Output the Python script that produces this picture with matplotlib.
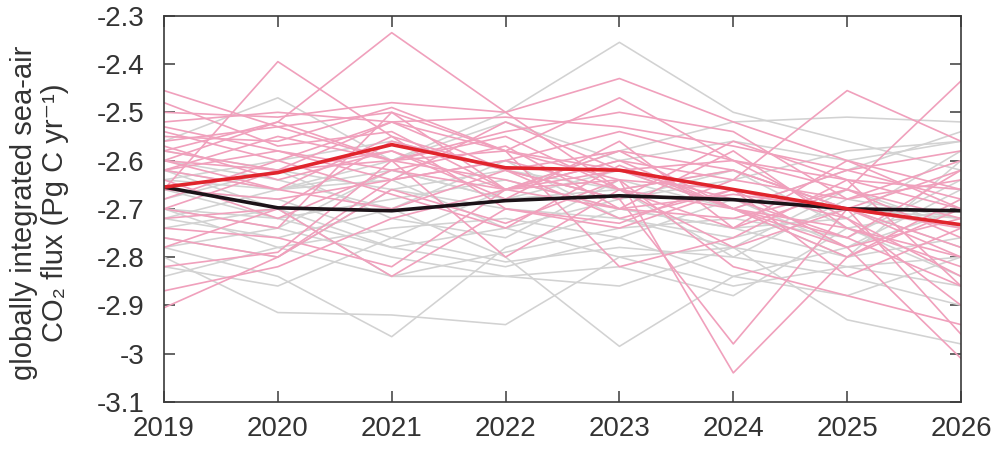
import numpy as np
import matplotlib
matplotlib.use("Agg")
import matplotlib.pyplot as plt
from matplotlib.ticker import FuncFormatter

plt.rcParams['font.family'] = ['Liberation Sans', 'DejaVu Sans']
plt.rcParams['axes.unicode_minus'] = False

years = [2019, 2020, 2021, 2022, 2023, 2024, 2025, 2026]

# ensemble members (Pg C / yr)
pink_members = [
    [-2.455, -2.53, -2.50, -2.58, -2.47, -2.60, -2.66, -2.72],
    [-2.60, -2.52, -2.335, -2.50, -2.66, -2.62, -2.70, -2.80],
    [-2.66, -2.395, -2.55, -2.62, -2.58, -2.70, -2.78, -2.72],
    [-2.70, -2.62, -2.58, -2.66, -2.64, -3.04, -2.80, -2.70],
    [-2.62, -2.66, -2.70, -2.62, -2.68, -2.98, -2.70, -2.62],
    [-2.58, -2.62, -2.60, -2.64, -2.70, -2.72, -2.66, -2.435],
    [-2.56, -2.53, -2.60, -2.58, -2.64, -2.66, -2.78, -3.01],
    [-2.905, -2.80, -2.64, -2.60, -2.66, -2.70, -2.74, -2.80],
    [-2.87, -2.82, -2.72, -2.66, -2.62, -2.68, -2.76, -2.86],
    [-2.62, -2.58, -2.62, -2.66, -2.60, -2.64, -2.455, -2.56],
    [-2.50, -2.51, -2.48, -2.50, -2.43, -2.52, -2.60, -2.66],
    [-2.52, -2.50, -2.52, -2.51, -2.53, -2.57, -2.62, -2.58],
    [-2.55, -2.56, -2.49, -2.58, -2.62, -2.60, -2.64, -2.70],
    [-2.57, -2.64, -2.58, -2.68, -2.56, -2.74, -2.66, -2.76],
    [-2.60, -2.66, -2.55, -2.70, -2.73, -2.64, -2.68, -2.64],
    [-2.64, -2.72, -2.62, -2.57, -2.70, -2.58, -2.74, -2.82],
    [-2.68, -2.60, -2.67, -2.74, -2.61, -2.70, -2.62, -2.68],
    [-2.72, -2.70, -2.56, -2.62, -2.72, -2.66, -2.72, -2.90],
    [-2.74, -2.76, -2.82, -2.66, -2.58, -2.62, -2.70, -2.78],
    [-2.78, -2.70, -2.84, -2.70, -2.74, -2.66, -2.84, -2.74],
    [-2.82, -2.79, -2.60, -2.80, -2.66, -2.78, -2.70, -2.96],
    [-2.76, -2.80, -2.66, -2.73, -2.64, -2.82, -2.88, -2.94],
    [-2.58, -2.52, -2.60, -2.54, -2.50, -2.54, -2.68, -2.60],
    [-2.54, -2.60, -2.52, -2.62, -2.68, -2.56, -2.64, -2.66],
    [-2.62, -2.55, -2.60, -2.55, -2.66, -2.74, -2.60, -2.70],
    [-2.66, -2.68, -2.64, -2.60, -2.54, -2.60, -2.72, -2.84],
    [-2.70, -2.74, -2.50, -2.66, -2.60, -2.70, -2.80, -2.68],
    [-2.60, -2.62, -2.52, -2.58, -2.82, -2.76, -2.64, -2.86],
    [-2.53, -2.58, -2.64, -2.52, -2.62, -2.70, -2.76, -2.62],
    [-2.48, -2.57, -2.54, -2.66, -2.70, -2.67, -2.70, -2.74],
]

gray_members = [
    [-2.62, -2.66, -2.60, -2.50, -2.355, -2.50, -2.56, -2.62],
    [-2.78, -2.84, -2.965, -2.78, -2.70, -2.74, -2.80, -2.76],
    [-2.72, -2.76, -2.70, -2.80, -2.985, -2.84, -2.78, -2.70],
    [-2.80, -2.915, -2.92, -2.94, -2.80, -2.86, -2.82, -2.80],
    [-2.70, -2.72, -2.78, -2.74, -2.80, -2.78, -2.93, -2.98],
    [-2.56, -2.47, -2.60, -2.52, -2.60, -2.56, -2.60, -2.56],
    [-2.66, -2.72, -2.68, -2.64, -2.70, -2.74, -2.72, -2.58],
    [-2.70, -2.78, -2.74, -2.72, -2.76, -2.68, -2.78, -2.66],
    [-2.74, -2.70, -2.84, -2.84, -2.82, -2.88, -2.74, -2.70],
    [-2.64, -2.66, -2.62, -2.68, -2.66, -2.62, -2.70, -2.72],
    [-2.82, -2.86, -2.76, -2.81, -2.78, -2.80, -2.84, -2.90],
    [-2.60, -2.64, -2.70, -2.60, -2.72, -2.78, -2.66, -2.74],
    [-2.68, -2.62, -2.72, -2.76, -2.64, -2.70, -2.62, -2.54],
    [-2.76, -2.80, -2.66, -2.70, -2.72, -2.76, -2.70, -2.78],
    [-2.66, -2.68, -2.76, -2.66, -2.58, -2.52, -2.51, -2.52],
    [-2.72, -2.66, -2.64, -2.74, -2.68, -2.62, -2.74, -2.84],
    [-2.58, -2.62, -2.66, -2.62, -2.68, -2.64, -2.58, -2.56],
    [-2.84, -2.78, -2.84, -2.79, -2.74, -2.72, -2.76, -2.64],
    [-2.70, -2.74, -2.62, -2.68, -2.62, -2.70, -2.80, -2.60],
    [-2.62, -2.70, -2.78, -2.82, -2.76, -2.84, -2.88, -2.80],
    [-2.64, -2.60, -2.56, -2.62, -2.66, -2.80, -2.68, -2.72],
    [-2.78, -2.74, -2.80, -2.84, -2.86, -2.78, -2.82, -2.86],
]

red_mean = [-2.655, -2.625, -2.567, -2.615, -2.62, -2.66, -2.70, -2.733]
black_mean = [-2.655, -2.698, -2.704, -2.683, -2.673, -2.681, -2.70, -2.704]

fig = plt.figure(figsize=(10, 4.51), dpi=100)
ax = fig.add_axes([0.164, 0.109, 0.797, 0.856])

for m in gray_members:
    ax.plot(years, m, color='#d2d2d2', lw=1.15)
for m in pink_members:
    ax.plot(years, m, color='#f0a0bc', lw=1.2)

ax.plot(years, black_mean, color='#1c1318', lw=2.6)
ax.plot(years, red_mean, color='#e0242c', lw=2.6)

ax.set_xlim(2019, 2026)
ax.set_ylim(-3.1, -2.3)
ax.set_xticks(years)
ax.set_yticks(np.arange(-3.1, -2.25, 0.1))
ax.yaxis.set_major_formatter(FuncFormatter(lambda v, p: '%g' % round(v, 1)))

for s in ax.spines.values():
    s.set_color('#3a3a3a')
    s.set_linewidth(1.2)
ax.tick_params(direction='in', length=8, width=1.1, color='#3a3a3a',
               top=True, right=True, labelsize=20, labelcolor='#333333')
ax.tick_params(axis='x', pad=10)
ax.tick_params(axis='y', pad=14)

ax.set_ylabel('globally integrated sea-air\nCO\u2082 flux (Pg C yr\u207b\u00b9)',
              fontsize=21, color='#333333', linespacing=1.15)
ax.yaxis.set_label_coords(-0.119, 0.49)

fig.savefig('out.png', dpi=100, facecolor='white')
